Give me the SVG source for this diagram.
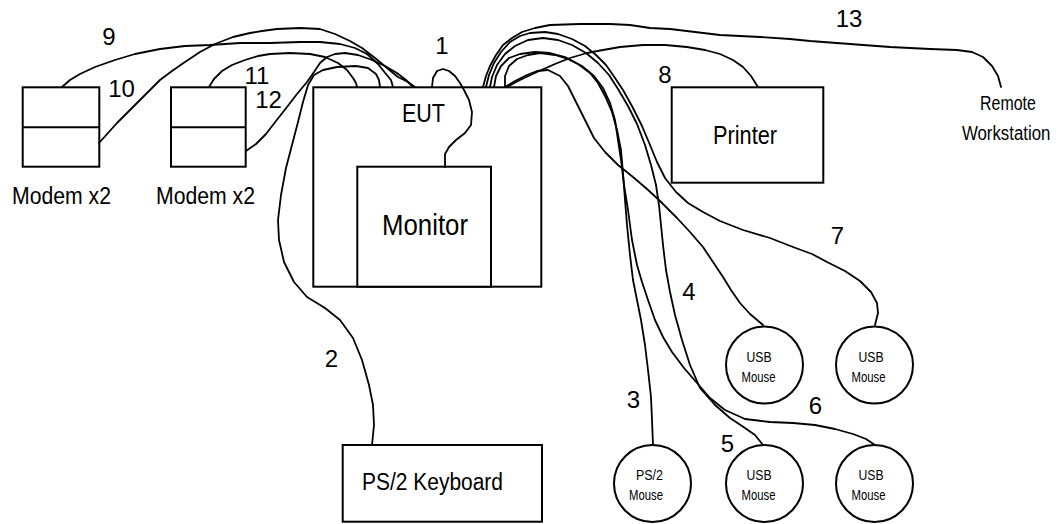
<svg xmlns="http://www.w3.org/2000/svg" width="1060" height="524" viewBox="0 0 1060 524">
  <style>
    .box { fill: #fff; stroke: #000; stroke-width: 2; }
    .mouse { fill: #fff; stroke: #000; stroke-width: 2; }
    .cable { fill: none; stroke: #000; stroke-width: 1.8; stroke-linejoin: round; stroke-linecap: round; }
    .lbl { font-family: "Liberation Sans", Arial, sans-serif; fill: #000; }
    .num { font-family: "Liberation Sans", Arial, sans-serif; font-size: 24px; fill: #000; text-anchor: middle; }
    .small { font-family: "Liberation Sans", Arial, sans-serif; font-size: 14.5px; fill: #000; text-anchor: middle; }
  </style>
  <rect width="1060" height="524" fill="#fff"/>

  <!-- equipment -->
  <g id="eut">
    <rect class="box" x="313.3" y="87.3" width="228" height="199.4"/>
    <text class="lbl" x="402" y="121.5" font-size="25" textLength="43" lengthAdjust="spacingAndGlyphs">EUT</text>
  </g>
  <g id="monitor">
    <rect class="box" x="357.3" y="166.7" width="133.7" height="120"/>
    <text class="lbl" x="382" y="235" font-size="30" textLength="86" lengthAdjust="spacingAndGlyphs">Monitor</text>
  </g>
  <g id="modem-a">
    <rect class="box" x="22.7" y="87.3" width="76.6" height="79.4"/>
    <line class="box" x1="22.7" y1="127.3" x2="99.3" y2="127.3"/>
    <text class="lbl" x="12" y="204" font-size="23" textLength="99" lengthAdjust="spacingAndGlyphs">Modem x2</text>
  </g>
  <g id="modem-b">
    <rect class="box" x="171" y="87.3" width="74.7" height="79.4"/>
    <line class="box" x1="171" y1="127.3" x2="245.7" y2="127.3"/>
    <text class="lbl" x="156" y="204" font-size="23" textLength="99" lengthAdjust="spacingAndGlyphs">Modem x2</text>
  </g>
  <g id="printer">
    <rect class="box" x="671.7" y="87.3" width="151.6" height="95.4"/>
    <text class="lbl" x="713" y="143.5" font-size="26" textLength="64" lengthAdjust="spacingAndGlyphs">Printer</text>
  </g>
  <g id="remote-workstation">
    <text class="lbl" transform="translate(980,110) scale(0.76,1)" font-size="21">Remote</text>
    <text class="lbl" transform="translate(962,140) scale(0.8,1)" font-size="21">Workstation</text>
  </g>
  <g id="keyboard">
    <rect class="box" x="342.7" y="445" width="199.3" height="76.7"/>
    <text class="lbl" x="362" y="490" font-size="23.5" textLength="141" lengthAdjust="spacingAndGlyphs">PS/2 Keyboard</text>
  </g>
  <g id="ps2-mouse">
    <circle class="mouse" cx="652.5" cy="483.5" r="38.5"/>
    <text class="small" x="649.5" y="480" textLength="27" lengthAdjust="spacingAndGlyphs">PS/2</text>
    <text class="small" x="646" y="500" textLength="34" lengthAdjust="spacingAndGlyphs">Mouse</text>
  </g>
  <g id="usb-mouse-1">
    <circle class="mouse" cx="764.5" cy="365" r="38.5"/>
    <text class="small" x="759" y="362" textLength="25" lengthAdjust="spacingAndGlyphs">USB</text>
    <text class="small" x="758.5" y="382" textLength="34" lengthAdjust="spacingAndGlyphs">Mouse</text>
  </g>
  <g id="usb-mouse-2">
    <circle class="mouse" cx="874.5" cy="365" r="38.5"/>
    <text class="small" x="871" y="362" textLength="25" lengthAdjust="spacingAndGlyphs">USB</text>
    <text class="small" x="868.5" y="382" textLength="34" lengthAdjust="spacingAndGlyphs">Mouse</text>
  </g>
  <g id="usb-mouse-3">
    <circle class="mouse" cx="764.5" cy="483.5" r="38.5"/>
    <text class="small" x="759" y="480" textLength="25" lengthAdjust="spacingAndGlyphs">USB</text>
    <text class="small" x="758.5" y="500" textLength="34" lengthAdjust="spacingAndGlyphs">Mouse</text>
  </g>
  <g id="usb-mouse-4">
    <circle class="mouse" cx="874.5" cy="483.5" r="38.5"/>
    <text class="small" x="871" y="480" textLength="25" lengthAdjust="spacingAndGlyphs">USB</text>
    <text class="small" x="868.5" y="500" textLength="34" lengthAdjust="spacingAndGlyphs">Mouse</text>
  </g>

  <!-- cables -->
  <g id="cables">
    <polyline id="cable-1" class="cable" points="432,87 433,78 437,71 443,69 449,71 455,76 460,83 464,90 469,100 472,112 471,125 465,133 456,140 449,147 445,154 445,167"/>
    <polyline id="cable-2" class="cable" points="372,445 374,425 373,405 369,385 362,360 353,338 340,320 325,308 307,297 294,282 284,262 279,240 278,220 281,195 286,168 292,145 298,122 303,102 308,85 314,75 323,70 337,67 356,66 368,68 376,74 379,80 380,87"/>
    <polyline id="cable-9" class="cable" points="62,87 70,80 80,74 95,67 115,60 135,54 160,49 185,46 210,45 240,43 270,43 300,42 320,42 340,44 355,48 367,54 378,64 386,74 391,80 393,87"/>
    <polyline id="cable-10" class="cable" points="99,143 108,133 117,123 128,112 140,100 150,90 160,80 172,71 185,62 200,52 215,44 233,37 250,33 262,31 277,29 300,28 320,29 335,34 350,41 362,48 375,58 387,68 398,77 408,82 415,87"/>
    <polyline id="cable-11" class="cable" points="209,87 214,79 222,71 232,65 245,60 258,56 270,54 290,53 310,54 325,57 338,63 347,70 353,78 356,83 357,87"/>
    <polyline id="cable-12" class="cable" points="246,151 256,144 266,134 276,121 287,107 297,94 307,82 314,72 320,63 327,57 335,54 345,53 358,55 372,60 385,66 397,73 406,80 413,87"/>
    <polyline id="cable-13" class="cable" points="483,87 486,76 490,66 496,55 503,45 512,38 522,32 535,28 550,25 580,24 610,24 630,25 650,28 670,29 695,32 720,35 760,37 790,39 810,41 850,44 890,47 930,49 957,50 972,52 983,57 992,66 998,76 1001,87"/>
    <polyline id="cable-8" class="cable" points="507,87 520,80 537,72 555,64 570,58 587,53 603,50 620,47 643,45 665,45 687,47 705,50 720,54 733,60 743,67 751,76 758,87"/>
    <polyline id="cable-7" class="cable" points="486,87 489,75 494,63 501,52 510,42 520,36 530,33 545,32 558,34 572,39 585,46 596,55 606,65 615,78 623,90 633,108 642,126 650,145 657,162 665,178 676,192 688,203 703,212 720,221 743,230 770,238 793,247 812,254 827,262 845,271 860,281 871,292 877,303 878,313 875,325"/>
    <polyline id="cable-5" class="cable" points="490,87 492,77 497,65 505,54 515,46 528,40 543,38 558,40 572,45 586,53 598,63 609,75 618,89 628,106 637,124 645,145 651,165 656,185 659,205 661,225 663,245 666,270 670,292 675,315 682,340 690,365 700,388 715,405 730,418 745,428 755,435 763,445"/>
    <polyline id="cable-3" class="cable" points="494,87 496,76 501,66 509,58 520,54 535,52 550,53 565,57 578,64 590,73 598,83 605,96 612,112 617,130 621,150 623,173 625,200 627,225 630,255 633,280 637,300 641,320 645,345 648,370 651,397 652,420 653,445"/>
    <polyline id="cable-6" class="cable" points="505,87 505,76 509,66 517,59 528,55 540,53 555,55 568,59 582,66 594,76 603,88 610,103 615,120 618,140 621,160 624,185 628,210 632,240 637,265 642,282 648,300 655,320 663,337 672,352 684,368 697,383 710,398 725,410 745,419 770,422 793,423 815,425 835,429 853,434 866,439 875,445"/>
    <polyline id="cable-4" class="cable" points="505,87 515,81 527,75 537,71 548,70 560,76 568,86 575,100 584,118 594,138 605,152 618,165 633,177 647,189 660,201 677,218 690,232 703,247 713,262 723,277 731,290 740,303 750,314 763,325"/>
  </g>

  <!-- cable numbers -->
  <g id="cable-numbers">
    <text class="num" x="109" y="45">9</text>
    <text class="num" x="121.5" y="97">10</text>
    <text class="num" x="257" y="84">11</text>
    <text class="num" x="268.5" y="108">12</text>
    <text class="num" x="442" y="54">1</text>
    <text class="num" x="331.5" y="367">2</text>
    <text class="num" x="633.5" y="408">3</text>
    <text class="num" x="689" y="300">4</text>
    <text class="num" x="727.5" y="452">5</text>
    <text class="num" x="815.5" y="414">6</text>
    <text class="num" x="837.5" y="244">7</text>
    <text class="num" x="665" y="83">8</text>
    <text class="num" x="849" y="27">13</text>
  </g>
</svg>
